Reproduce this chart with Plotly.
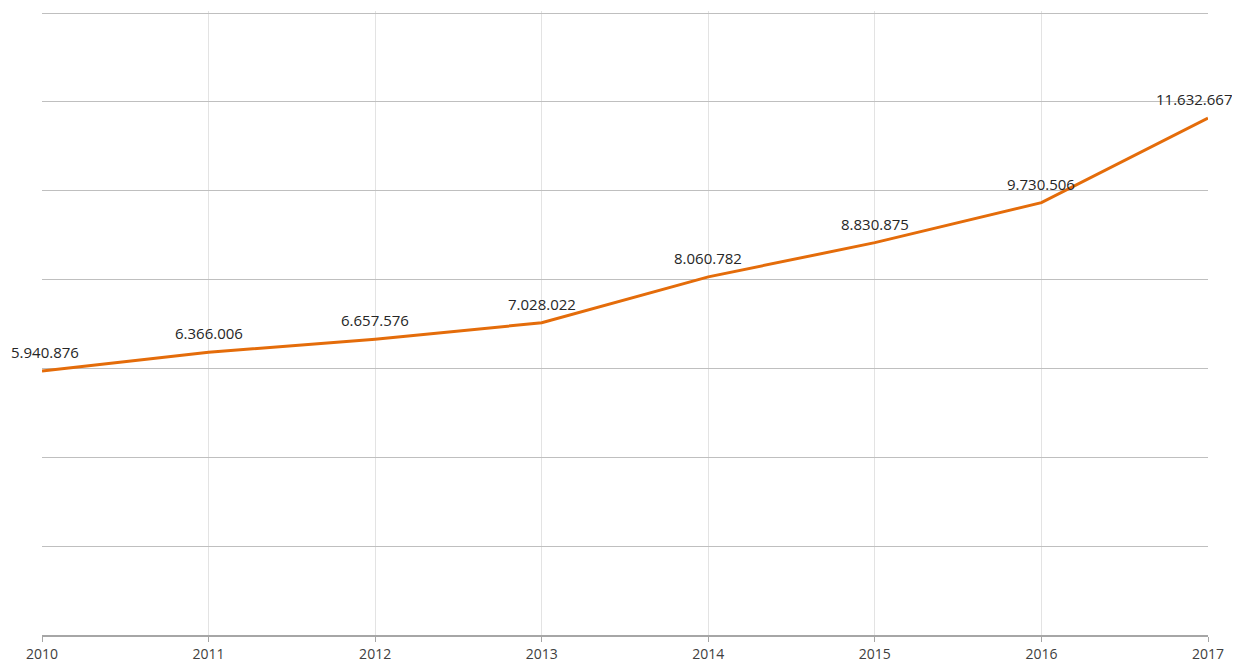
import plotly.graph_objects as go

years = [2010, 2011, 2012, 2013, 2014, 2015, 2016, 2017]
values = [5940876, 6366006, 6657576, 7028022, 8060782, 8830875, 9730506, 11632667]
year_labels = [str(y) for y in years]
label_xshift = [3, 0, 0, 0, 0, 0, 0, -14]


def fmt(v):
    return f"{v:,}".replace(",", ".")


fig = go.Figure()
fig.add_trace(go.Scatter(
    x=years, y=values, mode="lines",
    line=dict(color="#E46C0A", width=3),
    hoverinfo="x+y", showlegend=False,
))

for x, v, dx in zip(years, values, label_xshift):
    fig.add_annotation(
        x=x, y=v, text=fmt(v), showarrow=False,
        yshift=19, xshift=dx,
        font=dict(family="Open Sans", size=15, color="#262626"),
    )

fig.update_layout(
    width=1232, height=654,
    margin=dict(l=34, r=32, t=3, b=27, autoexpand=False),
    paper_bgcolor="white", plot_bgcolor="white",
    xaxis=dict(
        range=[2010, 2017], tickmode="array", tickvals=years, ticktext=year_labels,
        showgrid=True, gridcolor="#E3E3E3", gridwidth=1,
        showline=True, linecolor="#A6A6A6", linewidth=1.5,
        ticks="outside", ticklen=5, tickcolor="#A6A6A6",
        ticklabelstandoff=0, automargin=False,
        tickfont=dict(family="Open Sans", size=14, color="#404040"),
        zeroline=False, fixedrange=True,
    ),
    yaxis=dict(
        range=[0, 14045000], dtick=2000000, automargin=False,
        showgrid=True, gridcolor="#BFBFBF", gridwidth=1,
        showticklabels=False, zeroline=False, showline=False,
    ),
)

fig.write_html("out.html")
